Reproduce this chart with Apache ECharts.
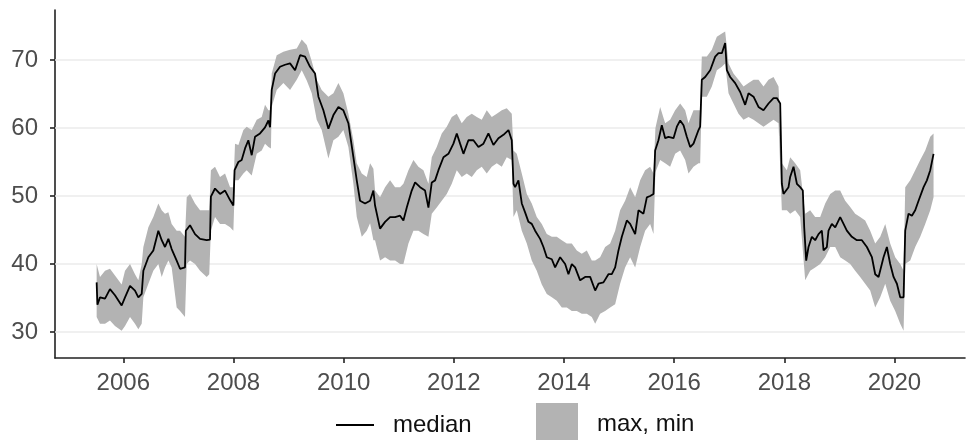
<!DOCTYPE html>
<html>
<head>
<meta charset="utf-8">
<script src="https://cdn.jsdelivr.net/npm/echarts@6/dist/echarts.min.js"></script>
<style>
html, body { margin: 0; padding: 0; background: #fff; }
#main { width: 966px; height: 440px; }
</style>
</head>
<body>
<div id="main"></div>
<script>
// tick labels
const xTicks = [2006, 2008, 2010, 2012, 2014, 2016, 2018, 2020]
const yTicks = [30, 40, 50, 60, 70]

// median line (decimal year, value)
const medYear = [
  2005.516, 2005.530, 2005.577, 2005.668, 2005.758, 2005.849, 2005.970, 2006.031, 2006.122, 2006.212,
  2006.273, 2006.334, 2006.364, 2006.455, 2006.545, 2006.636, 2006.697, 2006.757, 2006.818, 2006.878,
  2006.969, 2007.030, 2007.120, 2007.135, 2007.211, 2007.302, 2007.393, 2007.514, 2007.574, 2007.590,
  2007.665, 2007.756, 2007.847, 2007.938, 2007.998, 2008.020, 2008.089, 2008.149, 2008.210, 2008.270,
  2008.331, 2008.391, 2008.482, 2008.573, 2008.634, 2008.664, 2008.694, 2008.755, 2008.845, 2008.936,
  2009.027, 2009.118, 2009.209, 2009.299, 2009.390, 2009.481, 2009.542, 2009.632, 2009.723, 2009.814,
  2009.905, 2009.995, 2010.086, 2010.177, 2010.238, 2010.298, 2010.389, 2010.480, 2010.540, 2010.570,
  2010.661, 2010.752, 2010.843, 2010.934, 2011.024, 2011.085, 2011.146, 2011.236, 2011.297, 2011.388,
  2011.478, 2011.539, 2011.600, 2011.660, 2011.721, 2011.812, 2011.902, 2011.993, 2012.054, 2012.114,
  2012.175, 2012.265, 2012.356, 2012.447, 2012.538, 2012.628, 2012.719, 2012.810, 2012.901, 2012.992,
  2013.052, 2013.083, 2013.113, 2013.173, 2013.234, 2013.294, 2013.355, 2013.415, 2013.476, 2013.567,
  2013.627, 2013.688, 2013.779, 2013.839, 2013.930, 2014.021, 2014.081, 2014.142, 2014.202, 2014.293,
  2014.384, 2014.475, 2014.566, 2014.626, 2014.717, 2014.807, 2014.868, 2014.929, 2014.989, 2015.050,
  2015.141, 2015.201, 2015.292, 2015.352, 2015.443, 2015.504, 2015.564, 2015.625, 2015.655, 2015.715,
  2015.776, 2015.837, 2015.897, 2015.988, 2016.049, 2016.109, 2016.170, 2016.230, 2016.291, 2016.351,
  2016.442, 2016.472, 2016.502, 2016.563, 2016.654, 2016.745, 2016.805, 2016.866, 2016.926, 2016.957,
  2017.017, 2017.108, 2017.199, 2017.289, 2017.350, 2017.441, 2017.531, 2017.622, 2017.713, 2017.804,
  2017.864, 2017.925, 2017.955, 2017.985, 2018.076, 2018.106, 2018.167, 2018.228, 2018.288, 2018.336,
  2018.361, 2018.397, 2018.439, 2018.500, 2018.560, 2018.621, 2018.681, 2018.712, 2018.772, 2018.802,
  2018.863, 2018.924, 2019.014, 2019.075, 2019.135, 2019.226, 2019.317, 2019.408, 2019.499, 2019.590,
  2019.650, 2019.711, 2019.801, 2019.862, 2019.922, 2019.983, 2020.044, 2020.104, 2020.165, 2020.195,
  2020.255, 2020.316, 2020.376, 2020.437, 2020.528, 2020.588, 2020.649, 2020.709
]
const medVal = [
  37.3, 34.0, 35.1, 34.9, 36.3, 35.4, 33.9, 35.1, 36.8, 36.1,
  35.1, 35.6, 39.0, 41.0, 42.0, 44.9, 43.5, 42.5, 43.7, 42.2,
  40.5, 39.3, 39.5, 44.9, 45.7, 44.4, 43.7, 43.5, 43.6, 49.9,
  51.1, 50.3, 50.8, 49.4, 48.6, 53.8, 55.0, 55.3, 57.0, 58.2,
  56.0, 58.7, 59.2, 60.1, 61.1, 60.1, 65.6, 68.0, 69.0, 69.3,
  69.5, 68.5, 70.7, 70.5, 69.0, 68.0, 64.6, 62.6, 59.9, 61.9,
  63.1, 62.6, 60.7, 55.7, 52.3, 49.3, 48.9, 49.3, 50.8, 48.6,
  45.2, 46.2, 46.9, 46.9, 47.1, 46.4, 48.3, 50.8, 52.0, 51.3,
  50.8, 48.3, 52.0, 52.3, 53.8, 55.7, 56.2, 57.7, 59.2, 57.7,
  56.2, 58.2, 58.2, 57.2, 57.7, 59.2, 57.5, 58.5, 59.0, 59.7,
  58.2, 51.8, 51.3, 52.3, 48.9, 47.6, 46.2, 45.9, 44.9, 43.7,
  42.5, 41.0, 40.7, 39.5, 41.0, 40.0, 38.5, 40.0, 39.5, 37.6,
  38.1, 38.1, 36.1, 37.1, 37.3, 38.5, 38.5, 39.5, 42.0, 44.0,
  46.4, 45.9, 44.4, 47.9, 47.4, 49.8, 50.0, 50.3, 56.7, 58.2,
  60.4, 58.5, 58.7, 58.5, 60.2, 61.1, 60.4, 58.7, 57.2, 57.7,
  59.7, 60.2, 67.1, 67.5, 68.5, 70.5, 71.0, 71.0, 72.5, 68.5,
  67.5, 66.6, 65.3, 63.4, 65.1, 64.6, 63.1, 62.6, 63.6, 64.4,
  64.4, 63.6, 51.8, 50.3, 51.3, 52.8, 54.3, 51.8, 51.3, 50.8,
  45.4, 40.5, 42.5, 44.0, 43.5, 44.4, 44.9, 42.0, 42.5, 44.9,
  45.9, 45.4, 46.9, 45.9, 44.9, 44.0, 43.5, 43.5, 42.5, 41.0,
  38.5, 38.1, 41.0, 42.5, 40.0, 38.1, 37.1, 35.1, 35.1, 44.9,
  47.4, 47.1, 47.9, 49.3, 51.3, 52.3, 53.8, 56.2
]

// max / min band (decimal year, upper, lower)
const bandYear = [
  2005.516, 2005.577, 2005.668, 2005.758, 2005.849, 2005.970, 2006.031, 2006.122, 2006.212, 2006.273,
  2006.334, 2006.364, 2006.455, 2006.545, 2006.636, 2006.697, 2006.757, 2006.818, 2006.878, 2006.969,
  2007.030, 2007.120, 2007.151, 2007.211, 2007.302, 2007.393, 2007.514, 2007.560, 2007.590, 2007.665,
  2007.756, 2007.847, 2007.938, 2007.998, 2008.028, 2008.089, 2008.180, 2008.240, 2008.331, 2008.422,
  2008.513, 2008.573, 2008.634, 2008.680, 2008.694, 2008.785, 2008.906, 2009.027, 2009.148, 2009.239,
  2009.330, 2009.421, 2009.511, 2009.602, 2009.723, 2009.814, 2009.905, 2009.995, 2010.086, 2010.177,
  2010.238, 2010.329, 2010.419, 2010.480, 2010.540, 2010.570, 2010.661, 2010.752, 2010.843, 2010.934,
  2011.024, 2011.085, 2011.176, 2011.267, 2011.357, 2011.448, 2011.539, 2011.600, 2011.690, 2011.781,
  2011.872, 2011.963, 2012.054, 2012.144, 2012.235, 2012.326, 2012.417, 2012.507, 2012.598, 2012.689,
  2012.780, 2012.871, 2012.961, 2013.052, 2013.083, 2013.143, 2013.234, 2013.325, 2013.415, 2013.506,
  2013.597, 2013.688, 2013.779, 2013.869, 2013.960, 2014.051, 2014.142, 2014.233, 2014.323, 2014.414,
  2014.505, 2014.566, 2014.656, 2014.747, 2014.838, 2014.929, 2015.019, 2015.110, 2015.201, 2015.292,
  2015.383, 2015.473, 2015.564, 2015.625, 2015.660, 2015.746, 2015.837, 2015.927, 2016.018, 2016.109,
  2016.200, 2016.260, 2016.351, 2016.442, 2016.472, 2016.502, 2016.593, 2016.684, 2016.775, 2016.866,
  2016.926, 2016.987, 2017.077, 2017.168, 2017.259, 2017.350, 2017.441, 2017.531, 2017.622, 2017.713,
  2017.804, 2017.895, 2017.955, 2018.046, 2018.106, 2018.197, 2018.288, 2018.379, 2018.469, 2018.560,
  2018.651, 2018.742, 2018.833, 2018.924, 2019.014, 2019.105, 2019.196, 2019.286, 2019.377, 2019.468,
  2019.559, 2019.650, 2019.741, 2019.832, 2019.922, 2020.013, 2020.104, 2020.165, 2020.195, 2020.286,
  2020.376, 2020.467, 2020.558, 2020.649, 2020.709
]
const bandMax = [
  40.0, 38.1, 39.0, 39.3, 38.3, 37.0, 39.0, 40.0, 38.5, 37.6,
  40.0, 42.5, 45.4, 46.9, 48.9, 47.9, 47.4, 47.6, 45.9, 44.9,
  44.9, 44.0, 49.8, 50.3, 48.9, 47.9, 47.9, 47.9, 53.8, 54.3,
  52.8, 53.3, 51.3, 51.3, 57.7, 57.5, 59.7, 60.2, 59.7, 61.2,
  61.6, 63.4, 62.6, 62.6, 68.0, 70.7, 71.2, 71.5, 71.7, 73.0,
  72.2, 69.8, 67.1, 65.6, 64.6, 65.1, 66.6, 65.1, 62.1, 58.2,
  54.8, 53.3, 52.8, 54.8, 54.0, 50.8, 49.8, 51.3, 52.3, 51.3,
  51.3, 51.8, 53.8, 55.3, 54.3, 53.8, 51.8, 55.7, 57.2, 59.2,
  60.2, 61.6, 62.1, 60.7, 61.6, 62.1, 61.6, 61.2, 62.6, 61.6,
  62.1, 62.6, 62.9, 62.1, 56.7, 56.2, 53.3, 50.3, 48.9, 46.9,
  45.9, 44.4, 44.0, 44.0, 43.5, 43.0, 43.0, 42.0, 41.5, 42.0,
  40.5, 40.5, 41.0, 42.5, 43.0, 44.9, 47.9, 49.3, 51.3, 49.8,
  52.3, 53.8, 54.3, 53.3, 60.0, 63.1, 60.7, 61.2, 62.6, 63.6,
  62.6, 60.7, 62.6, 62.6, 62.6, 70.5, 70.5, 71.5, 73.4, 73.9,
  74.2, 69.5, 68.0, 67.1, 66.1, 66.6, 67.1, 67.1, 66.1, 67.1,
  67.5, 66.1, 54.8, 53.8, 55.7, 54.8, 53.8, 47.4, 47.9, 46.9,
  46.9, 48.9, 50.3, 50.8, 50.8, 49.3, 48.4, 47.4, 46.9, 46.4,
  44.9, 43.0, 44.0, 45.9, 43.0, 41.0, 40.0, 39.0, 51.3, 52.3,
  53.8, 55.3, 56.7, 58.7, 59.2
]
const bandMin = [
  32.2, 31.2, 31.2, 31.7, 30.9, 30.2, 30.9, 32.2, 31.2, 30.4,
  31.2, 35.1, 37.1, 39.0, 40.0, 38.1, 39.5, 40.5, 39.5, 33.6,
  33.1, 32.2, 40.0, 40.5, 40.0, 39.0, 38.1, 38.5, 44.9, 46.9,
  45.9, 45.9, 45.4, 44.9, 52.3, 52.3, 53.3, 53.8, 53.0, 56.2,
  56.7, 57.7, 57.2, 57.0, 63.1, 65.6, 66.6, 65.6, 67.1, 68.5,
  67.0, 65.1, 61.2, 59.7, 55.5, 58.2, 58.7, 59.7, 57.2, 51.8,
  46.9, 44.0, 44.9, 46.0, 43.5, 43.5, 40.5, 41.0, 40.5, 40.5,
  40.0, 40.0, 43.0, 44.9, 44.9, 44.4, 44.0, 47.4, 48.3, 49.3,
  50.3, 51.8, 53.8, 52.8, 53.3, 52.8, 53.8, 54.3, 53.3, 54.3,
  54.8, 54.3, 55.7, 55.3, 46.9, 47.9, 44.9, 43.0, 40.5, 39.0,
  37.0, 35.6, 35.1, 34.6, 33.6, 33.6, 33.1, 33.1, 32.7, 32.7,
  32.2, 31.2, 32.7, 33.1, 33.6, 34.1, 37.1, 39.5, 41.0, 39.5,
  42.5, 44.9, 45.9, 44.4, 53.5, 55.3, 54.8, 54.3, 56.2, 56.7,
  55.3, 53.3, 54.3, 54.8, 54.8, 64.6, 64.6, 66.1, 68.5, 69.0,
  69.5, 65.1, 63.6, 62.1, 61.2, 61.6, 61.2, 60.7, 60.2, 60.7,
  61.2, 60.7, 47.9, 47.9, 47.4, 47.9, 46.9, 37.6, 39.0, 39.5,
  40.0, 41.0, 42.5, 42.5, 41.0, 40.5, 40.0, 39.0, 38.1, 37.1,
  36.1, 33.6, 35.1, 37.1, 34.6, 33.1, 31.2, 30.2, 40.0, 40.5,
  42.5, 44.0, 45.9, 47.9, 49.8
]

const font = "'Liberation Sans', Arial, sans-serif"
const axisColor = '#222'
const labelColor = '#4d4d4d'

const medData = medYear.map((y, i) => [y, medVal[i]])
const bandData = bandYear.map((y, i) => [y, bandMax[i], bandMin[i]])

const chartDom = document.getElementById('main')
const myChart = echarts.init(chartDom)
let option
option = {
  animation: false,
  grid: {left: 55, right: 1, top: 10, bottom: 82, containLabel: false},
  legend: [
    {
      data: [{name: 'median', icon: 'rect'}],
      left: 336,
      top: 413,
      padding: 0,
      itemWidth: 38,
      itemHeight: 2,
      selectedMode: false,
      textStyle: {fontFamily: font, fontSize: 24, color: '#111', padding: [0, 0, 0, 14]}
    },
    {
      data: [{name: 'max, min', icon: 'rect'}],
      left: 536,
      top: 403,
      padding: 0,
      itemWidth: 42,
      itemHeight: 42,
      selectedMode: false,
      textStyle: {fontFamily: font, fontSize: 24, color: '#111', padding: [0, 0, 0, 14]}
    }
  ],
  xAxis: {
    type: 'value',
    min: 2004.76,
    max: 2021.28,
    splitLine: {show: false},
    axisLine: {show: true, lineStyle: {color: axisColor, width: 1.6}},
    axisTick: {show: true, customValues: xTicks, length: 5, lineStyle: {color: axisColor, width: 1.6}},
    axisLabel: {customValues: xTicks, fontFamily: font, fontSize: 24, color: labelColor, margin: 13,
      formatter: v => String(v)}
  },
  yAxis: {
    type: 'value',
    min: 26.18,
    max: 77.35,
    splitLine: {show: false},
    axisLine: {show: true, lineStyle: {color: axisColor, width: 1.6}},
    axisTick: {show: true, customValues: yTicks, length: 5, lineStyle: {color: axisColor, width: 1.6}},
    axisLabel: {customValues: yTicks, fontFamily: font, fontSize: 24, color: labelColor, margin: 17,
      formatter: v => String(v)}
  },
  series: [
    {
      // horizontal grid lines
      name: 'grid',
      type: 'line',
      data: [],
      silent: true,
      z: 1,
      markLine: {
        silent: true,
        z: 1,
        symbol: ['none', 'none'],
        label: {show: false},
        lineStyle: {color: '#ebebeb', width: 1.5, type: 'solid'},
        emphasis: {disabled: true},
        data: yTicks.map(v => ({yAxis: v}))
      }
    },
    {
      name: 'max, min',
      type: 'custom',
      z: 2,
      silent: true,
      itemStyle: {color: '#b3b3b3'},
      encode: {x: 0, y: [1, 2]},
      data: bandData,
      renderItem: function (params, api) {
        if (params.dataIndex !== 0) return null
        let pts = []
        for (let i = 0; i < bandYear.length; i++) pts.push(api.coord([bandYear[i], bandMax[i]]))
        for (let i = bandYear.length - 1; i >= 0; i--) pts.push(api.coord([bandYear[i], bandMin[i]]))
        return {
          type: 'polygon',
          shape: {points: pts},
          style: {fill: '#b3b3b3', stroke: null}
        }
      }
    },
    {
      name: 'median',
      type: 'line',
      z: 3,
      data: medData,
      symbol: 'none',
      showSymbol: false,
      silent: true,
      lineStyle: {color: '#000', width: 1.8},
      itemStyle: {color: '#000'}
    }
  ]
}
option && myChart.setOption(option)
</script>
</body>
</html>
